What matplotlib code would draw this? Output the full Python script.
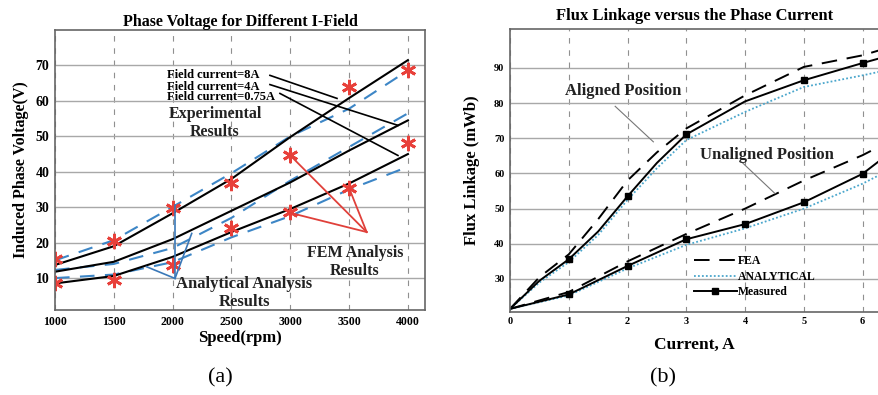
import matplotlib
matplotlib.use('Agg')
import matplotlib.pyplot as plt

plt.rcParams['font.family'] = ['Liberation Serif', 'DejaVu Serif']
plt.rcParams['font.weight'] = 'bold'

# ---- panel (a): phase voltage vs speed ----
speed = [1000, 1500, 2000, 2500, 3000, 3500, 4000]
exp_8a = [13.7, 19.0, 28.3, 38.0, 49.8, 60.8, 71.5]
exp_4a = [11.8, 14.6, 21.0, 29.0, 37.0, 46.0, 54.5]
exp_075a = [8.5, 10.6, 16.0, 23.0, 29.5, 36.7, 45.0]
ana_8a = [15.0, 20.7, 30.1, 39.6, 50.0, 57.8, 68.6]
ana_4a = [12.3, 14.0, 18.5, 27.0, 37.5, 47.0, 56.5]
ana_075a = [10.0, 11.0, 14.5, 21.5, 27.5, 35.0, 41.4]
fem_high = [15.5, 20.5, 29.9, 36.8, 44.6, 63.8, 68.6]
fem_low = [8.5, 9.4, 13.7, 24.2, 28.6, 35.4, 48.0]
field_labels = ['Field current=8A', 'Field current=4A', 'Field current=0.75A']

# ---- panel (b): flux linkage vs current ----
cur_al = [0, 0.5, 1, 1.5, 2, 2.5, 3, 4, 5, 6, 6.28]
meas_al = [21.5, 29.5, 35.6, 43.5, 53.5, 63.0, 71.1, 80.5, 86.5, 91.4, 92.7]
fea_al = [21.5, 30.5, 37.0, 47.0, 58.0, 66.0, 72.8, 82.2, 90.3, 93.6, 95.0]
ana_al = [21.5, 29.0, 34.8, 42.5, 52.5, 61.5, 69.5, 77.5, 84.6, 87.9, 88.9]
cur_un = [0, 1, 2, 3, 4, 5, 6, 6.28]
meas_un = [21.5, 25.6, 33.7, 41.3, 45.6, 51.8, 59.9, 63.5]
fea_un = [21.5, 26.3, 35.0, 42.8, 50.0, 58.0, 65.2, 67.6]
ana_un = [21.5, 25.3, 33.0, 39.7, 44.4, 50.0, 57.1, 59.5]

W, H = 879, 395
fig = plt.figure(figsize=(W / 100, H / 100), dpi=100)


def style_axes(ax):
    ax.grid(axis='y', color='#a8a8a8', linewidth=1.0, linestyle='-')
    ax.grid(axis='x', color='#909090', linewidth=0.8, linestyle=(0, (5, 6)))
    ax.set_axisbelow(True)
    ax.tick_params(length=0, pad=4)
    for s in ax.spines.values():
        s.set_color('#666666')
        s.set_linewidth(1.2)


# (a)
ax1 = fig.add_axes([55 / W, (H - 310) / H, 370 / W, 280 / H])
style_axes(ax1)
blue = '#3d86c6'
for ys in (ana_8a, ana_4a, ana_075a):
    ax1.plot(speed, ys, color=blue, linewidth=1.5, linestyle=(0, (7, 5)))
for ys in (exp_8a, exp_4a, exp_075a):
    ax1.plot(speed, ys, color='black', linewidth=1.5)
for ys in (fem_high, fem_low):
    ax1.plot(speed, ys, linestyle='none', marker=(6, 2, 0), markersize=11,
             markeredgewidth=2.0, color='#e8403a')

ax1.set_xlim(1000, 4145)
ax1.set_ylim(1, 80)
ax1.set_xticks(speed)
ax1.set_yticks([10, 20, 30, 40, 50, 60, 70])
ax1.tick_params(axis='x', labelsize=8.5)
ax1.tick_params(axis='y', labelsize=10)
ax1.set_title('Phase Voltage for Different I-Field', fontsize=11.5, fontweight='bold', pad=3)
ax1.set_xlabel('Speed(rpm)', fontsize=12, fontweight='bold', labelpad=2)
ax1.set_ylabel('Induced Phase Voltage(V)', fontsize=11.5, fontweight='bold', labelpad=5)

# field current labels with pointer lines
txt_y = [67.2, 64.0, 61.0]
line_start = [(2827, 67.2), (2827, 64.6), (2912, 62.1)]
line_end = [(3397, 60.7), (3915, 53.1), (3915, 44.6)]
for lab, ty, st, en in zip(field_labels, txt_y, line_start, line_end):
    ax1.text(1952, ty, lab, fontsize=9, fontweight='bold', va='center', ha='left')
    ax1.plot([st[0], en[0]], [st[1], en[1]], color='black', linewidth=1.2)

ax1.text(2360, 53.7, 'Experimental\nResults', fontsize=11.5, fontweight='bold',
         ha='center', va='center', linespacing=1.2, color='#222222')

# FEM annotation (red)
apex = (3649, 23.0)
for tgt in [(3000, 44.6), (3000, 28.4), (3500, 35.4)]:
    ax1.plot([apex[0], tgt[0]], [apex[1], tgt[1]], color='#e0403a', linewidth=1.3)
ax1.text(3550, 14.5, 'FEM Analysis\nResults', fontsize=11.5, fontweight='bold',
         ha='center', va='center', linespacing=1.2, color='#222222')

# Analytical annotation (blue)
apex_b = (2020, 9.9)
for tgt in [(2020, 30.6), (1779, 13.2), (2162, 22.6)]:
    ax1.plot([apex_b[0], tgt[0]], [apex_b[1], tgt[1]], color='#3a78b8', linewidth=1.2)
ax1.text(2608, 5.8, 'Analytical Analysis\nResults', fontsize=12, fontweight='bold',
         ha='center', va='center', linespacing=1.2, color='#222222')

# (b)
ax2 = fig.add_axes([510 / W, (H - 311.7) / H, 369 / W, 282.4 / H])
style_axes(ax2)
ax2.spines['right'].set_visible(False)
dotted_c = '#4aa6cc'
dash = (0, (8, 5))
ax2.plot(cur_al, fea_al, color='black', linewidth=1.4, linestyle=dash, label='FEA')
ax2.plot(cur_al, ana_al, color=dotted_c, linewidth=1.3, linestyle=(0, (1, 1.2)), label='ANALYTICAL')
ax2.plot(cur_al, meas_al, color='black', linewidth=1.4, marker='s', markersize=4.5,
         markevery=[2, 4, 6, 8, 9], label='Measured')
ax2.plot(cur_un, fea_un, color='black', linewidth=1.4, linestyle=dash)
ax2.plot(cur_un, ana_un, color=dotted_c, linewidth=1.3, linestyle=(0, (1, 1.2)))
ax2.plot(cur_un, meas_un, color='black', linewidth=1.4, marker='s', markersize=4.5,
         markevery=[1, 2, 3, 4, 5, 6])

ax2.set_xlim(0, 6.28)
ax2.set_ylim(20.7, 101)
ax2.set_xticks([0, 1, 2, 3, 4, 5, 6])
ax2.set_yticks([30, 40, 50, 60, 70, 80, 90])
ax2.tick_params(axis='both', labelsize=7.5)
ax2.set_title('Flux Linkage versus the Phase Current', fontsize=12, fontweight='bold', pad=7)
ax2.set_xlabel('Current, A', fontsize=12.5, fontweight='bold', labelpad=8)
ax2.set_ylabel('Flux Linkage (mWb)', fontsize=12, fontweight='bold', labelpad=10)

ax2.text(1.92, 83.5, 'Aligned Position', fontsize=12, fontweight='bold',
         ha='center', va='center', color='#222222')
ax2.plot([1.79, 2.44], [79.1, 69.0], color='#777777', linewidth=0.8)
ax2.text(4.38, 65.2, 'Unaligned Position', fontsize=12, fontweight='bold',
         ha='center', va='center', color='#222222')
ax2.plot([3.94, 4.51], [63.3, 54.3], color='#777777', linewidth=0.8)

ax2.legend(loc='upper left', bbox_to_anchor=(0.48, 0.225), frameon=False,
           fontsize=8.5, handlelength=3.6, handletextpad=0.1, labelspacing=0.3,
           borderpad=0.1)

fig.text(220 / W, 1 - 378 / H, '(a)', fontsize=16, fontweight='normal', ha='center', va='center')
fig.text(663 / W, 1 - 378 / H, '(b)', fontsize=16, fontweight='normal', ha='center', va='center')

fig.savefig('out.png', dpi=100)
